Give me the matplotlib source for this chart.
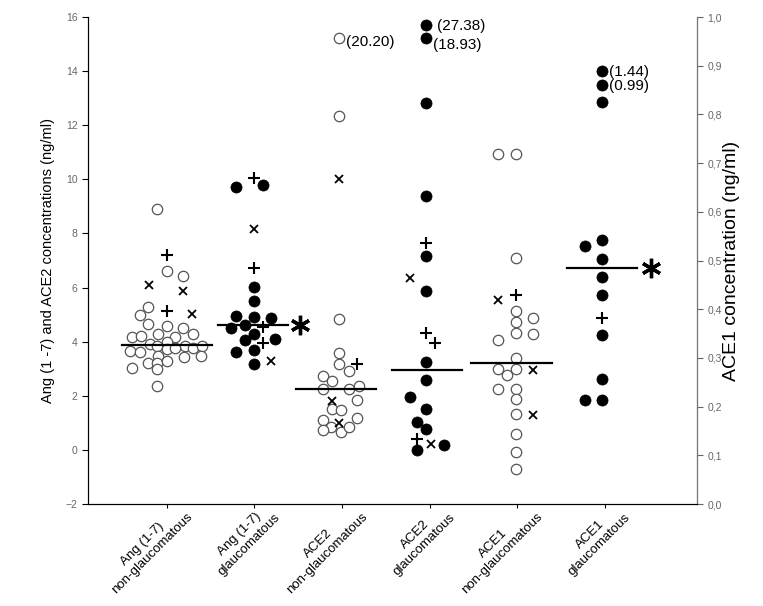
import matplotlib.pyplot as plt
import matplotlib.transforms as mtransforms
import numpy as np

plt.rcParams["font.family"] = ["Liberation Sans", "DejaVu Sans"]

categories = ["Ang (1-7)\nnon-glaucomatous", "Ang (1-7)\nglaucomatous",
              "ACE2\nnon-glaucomatous", "ACE2\nglaucomatous",
              "ACE1\nnon-glaucomatous", "ACE1\nglaucomatous"]
x = np.arange(1, 7)

# Ang (1-7) non-glaucomatous (ng/ml), open circles + jitter
ang_non = [8.89, 6.60, 6.44, 5.28, 4.97, 4.64, 4.58, 4.52, 4.27, 4.29, 4.17, 4.17,
           4.21, 3.93, 3.99, 3.84, 3.84, 3.78, 3.84, 3.66, 3.63, 3.72, 3.78, 3.48,
           3.44, 3.48, 3.23, 3.23, 3.29, 3.02, 2.99, 2.37]
ang_non_dx = [-0.11, 0, 0.19, -0.21, -0.31, -0.21, 0, 0.19, 0.30, -0.10, 0.09, -0.40,
              -0.30, -0.19, 0, -0.11, 0.21, 0.30, 0.40, -0.42, -0.31, 0, 0.09, -0.10,
              0.20, 0.39, -0.21, -0.11, 0, -0.40, -0.11, -0.11]
ang_non_plus = [7.19, 5.13]
ang_non_plus_dx = [0, 0]
ang_non_cross = [6.08, 5.89, 5.03]
ang_non_cross_dx = [-0.20, 0.19, 0.29]

# Ang (1-7) glaucomatous
ang_gl = [9.72, 9.78, 6.01, 5.52, 4.94, 4.91, 4.86, 4.52, 4.60, 4.29, 4.05, 4.09,
          3.62, 3.68, 3.19]
ang_gl_dx = [-0.21, 0.10, 0, 0, -0.21, 0, 0.19, -0.27, -0.11, 0, -0.11, 0.23,
             -0.21, 0, 0]
ang_gl_plus = [10.05, 6.72, 4.54, 3.96]
ang_gl_plus_dx = [0, 0, 0.10, 0.10]
ang_gl_cross = [8.15, 3.29]
ang_gl_cross_dx = [0, 0.19]

# ACE2 non-glaucomatous
ace2_non = [15.23, 12.35, 4.85, 3.60, 3.17, 2.90, 2.74, 2.56, 2.25, 2.25, 2.37, 1.86,
            1.52, 1.48, 1.11, 1.19, 0.84, 0.66, 0.72, 0.84]
ace2_non_dx = [-0.03, -0.03, -0.03, -0.03, -0.03, 0.08, -0.22, -0.12, -0.22, 0.08,
               0.19, 0.17, -0.12, -0.01, -0.22, 0.17, -0.13, -0.01, -0.22, 0.08]
ace2_non_plus = [3.19]
ace2_non_plus_dx = [0.17]
ace2_non_cross = [10.0, 1.82, 0.99]
ace2_non_cross_dx = [-0.03, -0.12, -0.03]

# ACE2 glaucomatous
ace2_gl = [15.72, 15.23, 12.84, 9.38, 7.17, 5.86, 3.25, 2.59, 1.97, 1.52, 1.02, 0.76,
           0.17, 0.01]
ace2_gl_dx = [-0.04, -0.04, -0.04, -0.04, -0.04, -0.04, -0.04, -0.04, -0.23, -0.04,
              -0.145, -0.04, 0.16, -0.145]
ace2_gl_plus = [7.66, 4.31, 3.96, 0.42]
ace2_gl_plus_dx = [-0.04, -0.04, 0.065, -0.145]
ace2_gl_cross = [6.35, 0.21]
ace2_gl_cross_dx = [-0.23, 0.02]

# ACE1 non-glaucomatous (right axis)
ace1_non = [0.719, 0.719, 0.505, 0.396, 0.374, 0.382, 0.352, 0.350, 0.337, 0.299,
            0.277, 0.265, 0.277, 0.236, 0.236, 0.216, 0.185, 0.144, 0.107, 0.071]
ace1_non_dx = [-0.225, -0.02, -0.02, -0.02, -0.02, 0.175, -0.02, 0.175, -0.225, -0.02,
               -0.225, -0.12, -0.02, -0.225, -0.02, -0.02, -0.02, -0.02, -0.02, -0.02]
ace1_non_plus = [0.430]
ace1_non_plus_dx = [-0.02]
ace1_non_cross = [0.418, 0.275, 0.182]
ace1_non_cross_dx = [-0.225, 0.175, 0.175]

# ACE1 glaucomatous (right axis)
ace1_gl = [0.890, 0.861, 0.826, 0.542, 0.529, 0.503, 0.467, 0.430, 0.347, 0.257,
           0.214, 0.214]
ace1_gl_dx = [-0.03, -0.03, -0.03, -0.03, -0.23, -0.03, -0.03, -0.03, -0.03, -0.03,
              -0.23, -0.03]
ace1_gl_plus = [0.382]
ace1_gl_plus_dx = [-0.03]

medians = [3.87, 4.60, 2.25, 2.96, 0.290, 0.484]
median_dx = [0, -0.02, -0.07, -0.03, -0.07, -0.03]
median_half = [0.51, 0.40, 0.46, 0.40, 0.46, 0.40]

fig = plt.figure(figsize=(7.63, 6.06), dpi=100)
ax = fig.add_axes([0.1153, 0.1683, 0.7982, 0.8036])
ax2 = ax.twinx()

open_kw = dict(ls="none", marker="o", ms=7.5, mfc="white", mec="#555555", mew=0.9)
fill_kw = dict(ls="none", marker="o", ms=8, mfc="black", mec="black", mew=0.5)
plus_kw = dict(ls="none", marker="+", ms=8, color="black", mew=1.5)
cross_kw = dict(ls="none", marker="x", ms=6, color="black", mew=1.3)


def draw(a, pos, vals, dx, kw):
    a.plot(pos + np.array(dx), vals, **kw)


draw(ax, x[0], ang_non, ang_non_dx, open_kw)
draw(ax, x[0], ang_non_plus, ang_non_plus_dx, plus_kw)
draw(ax, x[0], ang_non_cross, ang_non_cross_dx, cross_kw)
draw(ax, x[1], ang_gl, ang_gl_dx, fill_kw)
draw(ax, x[1], ang_gl_plus, ang_gl_plus_dx, plus_kw)
draw(ax, x[1], ang_gl_cross, ang_gl_cross_dx, cross_kw)
draw(ax, x[2], ace2_non, ace2_non_dx, open_kw)
draw(ax, x[2], ace2_non_plus, ace2_non_plus_dx, plus_kw)
draw(ax, x[2], ace2_non_cross, ace2_non_cross_dx, cross_kw)
draw(ax, x[3], ace2_gl, ace2_gl_dx, fill_kw)
draw(ax, x[3], ace2_gl_plus, ace2_gl_plus_dx, plus_kw)
draw(ax, x[3], ace2_gl_cross, ace2_gl_cross_dx, cross_kw)
draw(ax2, x[4], ace1_non, ace1_non_dx, open_kw)
draw(ax2, x[4], ace1_non_plus, ace1_non_plus_dx, plus_kw)
draw(ax2, x[4], ace1_non_cross, ace1_non_cross_dx, cross_kw)
draw(ax2, x[5], ace1_gl, ace1_gl_dx, fill_kw)
draw(ax2, x[5], ace1_gl_plus, ace1_gl_plus_dx, plus_kw)

for i, m in enumerate(medians):
    a = ax if i < 4 else ax2
    c = x[i] + median_dx[i]
    a.plot([c - median_half[i], c + median_half[i]], [m, m], color="black", lw=1.6)

# significance asterisks
ax.plot(x[1] + 0.52, medians[1], marker=(6, 2, 0), ms=14, mew=2.4, color="black")
ax2.plot(x[5] + 0.52, medians[5], marker=(6, 2, 0), ms=14, mew=2.4, color="black")

# off-scale values
ann = dict(textcoords="offset points", fontsize=11, va="center", ha="left")
ax.annotate("(20.20)", (x[2] + ace2_non_dx[0], ace2_non[0]), xytext=(5, -3), **ann)
ax.annotate("(27.38)", (x[3] + ace2_gl_dx[0], ace2_gl[0]), xytext=(8, -1), **ann)
ax.annotate("(18.93)", (x[3] + ace2_gl_dx[1], ace2_gl[1]), xytext=(5, -5), **ann)
ax2.annotate("(1.44)", (x[5] + ace1_gl_dx[0], ace1_gl[0]), xytext=(5, -1), **ann)
ax2.annotate("(0.99)", (x[5] + ace1_gl_dx[1], ace1_gl[1]), xytext=(5, -1), **ann)

ax.set_xlim(0.1, 7.05)
ax.set_ylim(-2, 16)
ax.set_yticks(np.arange(-2, 17, 2))
ax2.set_ylim(0, 1)
ax2.set_yticks(np.arange(0, 1.01, 0.1))
ax2.set_yticklabels([f"{v:.1f}".replace(".", ",") for v in np.arange(0, 1.01, 0.1)])

ax.set_xticks(x)
ax.set_xticklabels(categories, rotation=45, ha="right", va="top",
                   rotation_mode="anchor", multialignment="center", fontsize=9.5)
ax.tick_params(axis="x", length=3, pad=0)
shift = mtransforms.ScaledTranslation(7 / 72, 5 / 72, fig.dpi_scale_trans)
for lab in ax.get_xticklabels():
    lab.set_transform(lab.get_transform() + shift)
ax.tick_params(axis="y", labelsize=7.5, labelcolor="#666666", length=4, width=0.8)
ax2.tick_params(axis="y", labelsize=7.5, labelcolor="#666666", length=4, width=0.8,
                color="#666666")

for a in (ax, ax2):
    a.spines["top"].set_visible(False)
ax.spines["left"].set_color("#222222")
ax2.spines["right"].set_color("#777777")

ax.set_ylabel("Ang (1 -7) and ACE2 concentrations (ng/ml)", fontsize=10.5, labelpad=8)
ax2.set_ylabel("ACE1 concentration (ng/ml)", fontsize=14, labelpad=1)

fig.savefig("out.png", dpi=100)
